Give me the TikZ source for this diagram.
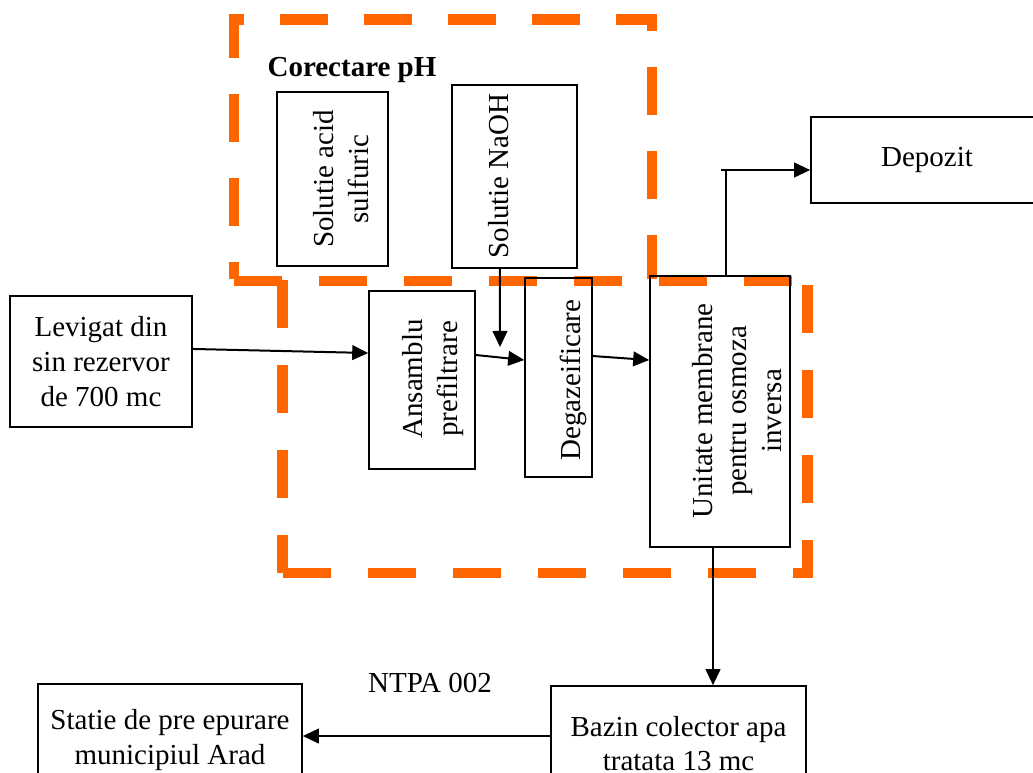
\documentclass[tikz,border=0pt]{standalone}
\usepackage{fontspec}
\setmainfont{Liberation Serif}
\usetikzlibrary{arrows.meta,calc}
\definecolor{orng}{HTML}{FF6600}
\tikzset{
 box/.style={draw, line width=1.2pt, inner sep=0pt, align=center, font=\fontsize{21.75}{26}\selectfont},
 txt/.style={font=\fontsize{21.75}{26}\selectfont, align=center, inner sep=0pt},
 vtxt/.style={txt, rotate=90},
 orangeA/.style={draw=orng, line width=8pt, dash pattern=on 36pt off 27pt},
 orangeB/.style={draw=orng, line width=8pt, dash pattern=on 36pt off 27.75pt},
 flow/.style={line width=1.5pt, -{Triangle[length=12pt,width=11pt]}},
}
\begin{document}
\begin{tikzpicture}[x=0.75pt,y=-0.75pt]
\clip (0,0) rectangle (1033,773);
\fill[white] (0,0) rectangle (1033,773);
% orange dashed regions
\draw[orangeA, dash phase=23.25pt] (234,279) -- (234,19.5) -- (652,19.5) -- (652,279);
\draw[orangeB] (234,281) -- (808,281);
\draw[orangeB] (282.5,280) -- (282.5,573);
\draw[orangeB] (282.5,573) -- (807.5,573) -- (807.5,281);
% boxes
\node[box, minimum width=83.25pt, minimum height=130.5pt] (acid) at (332.5,179) {};
\node[box, minimum width=93.75pt, minimum height=137.25pt] (naoh) at (514.5,176.5) {};
\node[box, minimum width=136.5pt, minimum height=98.25pt] (lev) at (101,361.5) {Levigat din\\sin rezervor\\de 700 mc};
\node[box, minimum width=79.5pt, minimum height=133.5pt] (ans) at (422,380) {};
\node[box, minimum width=50.25pt, minimum height=149.25pt] (deg) at (558.5,377.5) {};
\node[box, minimum width=105pt, minimum height=203.25pt] (uni) at (720,411.5) {};
\node[box, minimum width=174pt, minimum height=64.5pt] (dep) at (927,160) {Depozit};
\node[box, minimum width=198pt, minimum height=84pt] (sta) at (170,740) {Statie de pre epurare\\municipiul Arad};
\node[box, minimum width=191.25pt, minimum height=86.25pt] (baz) at (678.5,743.5) {Bazin colector apa\\tratata 13 mc};
% rotated texts
\node[vtxt] (acidT) at (341,179) {Solutie acid\\sulfuric};
\node[vtxt] (naohT) at (499,176) {Solutie NaOH};
\node[vtxt] (ansT) at (433,379) {Ansamblu\\prefiltrare};
\node[vtxt] (degT) at (573,380) {Degazeificare};
\node[vtxt] (uniT) at (737,411) {Unitate membrane\\pentru osmoza\\inversa};
% labels
\node[txt, font=\fontsize{21.75}{26}\selectfont\bfseries] (title) at (352,70) {Corectare pH};
\node[txt] (ntpa) at (430,683) {NTPA 002};
% connectors
\coordinate (naohEnd) at (500,347);
\coordinate (depStub) at (721,170);
\draw[flow] ([yshift=9.4pt]lev.east) -- ([yshift=20.25pt]ans.west);
\draw[flow] ([yshift=18.75pt]ans.east) -- ([yshift=13.1pt]deg.west);
\draw[flow] ([yshift=16.1pt]deg.east) -- ([yshift=38.6pt]uni.west);
\draw[flow] ([xshift=-10.9pt]naoh.south) -- (naohEnd);
\draw[line width=1.5pt] ([xshift=4.5pt]uni.north) -- ([xshift=4.5pt]uni.north |- depStub);
\draw[flow] (depStub) -- (depStub -| dep.west);
\draw[flow] ([xshift=-5.25pt]uni.south) -- ([xshift=-5.25pt]uni.south |- baz.north);
\draw[flow] ([yshift=5.6pt]baz.west) -- ([yshift=5.6pt]baz.west -| sta.east);
\end{tikzpicture}
\end{document}
